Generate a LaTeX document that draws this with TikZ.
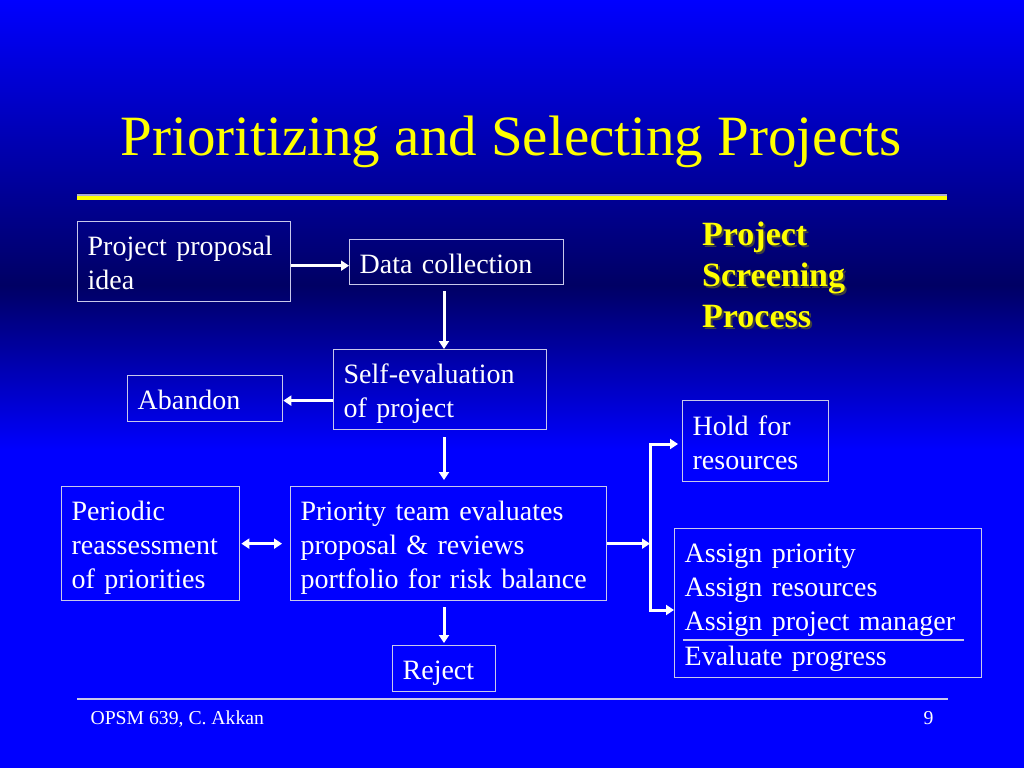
\documentclass[tikz,border=0pt]{standalone}
\usepackage{fontspec}
\setmainfont{Liberation Serif}
\usetikzlibrary{arrows.meta,calc}

\definecolor{slideblue}{RGB}{0,0,255}
\definecolor{slidenavy}{RGB}{0,0,100}
\definecolor{boxline}{RGB}{200,200,235}
\definecolor{ruleline}{RGB}{170,170,215}
\definecolor{titleyellow}{RGB}{255,255,0}
\newcommand{\boxstrut}{\rule[-6pt]{0pt}{34pt}}

\begin{document}
\begin{tikzpicture}[x=1pt,y=-1pt,
    stepbox/.style={draw=boxline,line width=1.3pt,text=white,align=left,anchor=north west,
        inner xsep=10pt,inner ysep=0pt,font=\fontsize{28}{34}\selectfont,
        execute at begin node=\boxstrut,execute at end node=\boxstrut},
    arr/.style={draw=white,line width=3pt,-{Triangle[length=8pt,width=10pt]}},
    twoarr/.style={draw=white,line width=3pt,{Triangle[length=8pt,width=10pt]}-{Triangle[length=8pt,width=10pt]}},
    screen/.style={font=\fontsize{34}{41}\selectfont\bfseries,align=left,anchor=north west,inner sep=0pt,
        execute at begin node=\strut}]
    \useasboundingbox (0,0) rectangle (1024,768);
    % background
    \shade[top color=slideblue,bottom color=slidenavy] (0,0) rectangle (1024,285);
    \shade[top color=slidenavy,bottom color=slideblue] (0,285) rectangle (1024,450);
    \fill[slideblue] (0,450) rectangle (1024,768);

    % title and rules
    \node[font=\fontsize{57}{68}\selectfont,titleyellow,anchor=base] (title) at (511,155) {Prioritizing and Selecting Projects};
    \draw[line width=1pt,black!60!blue] (77,193) -- (947,193);
    \draw[line width=2pt,ruleline] (77,195) -- (947,195);
    \draw[line width=3.5pt,titleyellow] (77,197.75) -- (947,197.75);
    \node[screen,black!75] (screenshade) at (704,223.5) {Project\\Screening\\Process};
    \node[screen,titleyellow] (screen) at (702,221.5) {Project\\Screening\\Process};

    % boxes
    \node[stepbox,text width=193pt,minimum height=80pt] (proposal) at (77,221) {Project proposal\\idea};
    \node[stepbox,text width=194pt,minimum height=45pt] (collect) at (349,239) {Data collection};
    \node[stepbox,text width=193pt,minimum height=80pt] (selfeval) at (333,349) {Self-evaluation\\of project};
    \node[stepbox,text width=135pt,minimum height=46pt] (abandon) at (127,375) {Abandon};
    \node[stepbox,text width=126pt,minimum height=81pt] (hold) at (682,400) {Hold for\\resources};
    \node[stepbox,text width=158pt,minimum height=114pt] (periodic) at (61,486) {Periodic\\reassessment\\of priorities};
    \node[stepbox,text width=296pt,minimum height=114pt] (team) at (290,486) {Priority team evaluates\\proposal \& reviews\\portfolio for risk balance};
    \node[stepbox,text width=83pt,minimum height=46pt] (reject) at (392,645) {Reject};
    \node[stepbox,text width=287pt,minimum height=149pt] (assign) at (674,528) {Assign priority\\Assign resources\\Assign project manager\\Evaluate progress};
    \draw[line width=1.2pt,boxline] ($(assign.north west)+(9,112)$) -- ++(281,0);

    % connectors
    \coordinate (spine) at (444,0);
    \coordinate (forktop) at (650,444);
    \coordinate (forkbot) at (650,610);
    \draw[arr] ([yshift=-4pt]proposal.east) -- ([yshift=-4pt]proposal.east -| collect.west);
    \draw[arr,shorten <=6pt] (collect.south -| spine) -- (selfeval.north -| spine);
    \draw[arr] ([yshift=-2pt]abandon.east -| selfeval.west) -- ([yshift=-2pt]abandon.east);
    \draw[arr,shorten <=7pt,shorten >=6pt] (selfeval.south -| spine) -- (team.north -| spine);
    \draw[arr,shorten <=6pt,shorten >=2pt] (team.south -| spine) -- (reject.north -| spine);
    \draw[twoarr,shorten <=1pt,shorten >=8pt] (periodic.east) -- (team.west);
    \draw[arr] (team.east) -- (team.east -| forktop);
    \draw[twoarr,shorten <=4pt] (forktop -| hold.west) -- (forktop) -- (forkbot) -- (forkbot -| assign.west);

    % footer
    \draw[line width=1.2pt,boxline] (77,699) -- (948,699);
    \node[font=\fontsize{19.7}{24}\selectfont,white,anchor=base west] (course) at (87,724) {OPSM 639, C. Akkan};
    \node[font=\fontsize{19.7}{24}\selectfont,white,anchor=base east] (page) at (937,724) {9};
\end{tikzpicture}
\end{document}
